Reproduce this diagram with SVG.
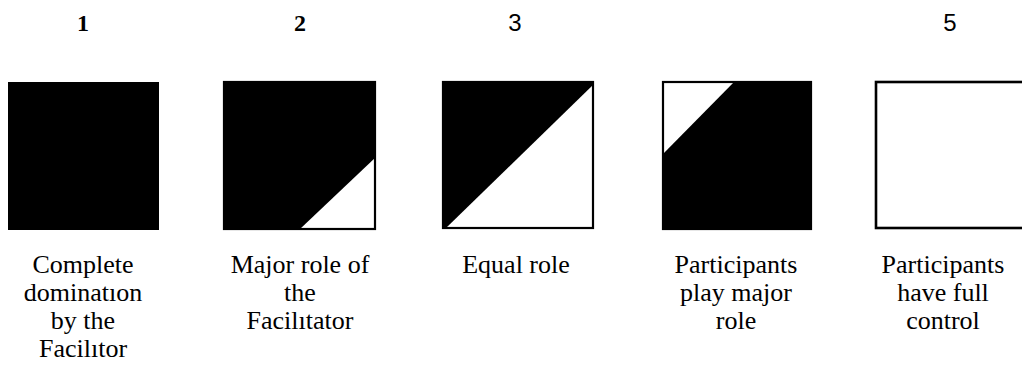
<svg xmlns="http://www.w3.org/2000/svg" width="1022" height="377" viewBox="0 0 1022 377">
  <style>
    .box { fill: #fff; stroke: #000; stroke-width: 2.2; }
    .ink { fill: #000; stroke: none; }
    .num { font-family: 'Liberation Serif', serif; font-size: 24px; font-weight: bold; fill: #000; text-anchor: middle; }
    .num2 { font-family: 'Liberation Sans', sans-serif; font-size: 24px; fill: #000; text-anchor: middle; }
    .cap { font-family: 'Liberation Serif', serif; font-size: 26px; fill: #000; text-anchor: middle; }
  </style>
  <rect width="1022" height="377" fill="#fff"/>

  <!-- 1: facilitator dominates completely -->
  <g id="level1">
    <text class="num" x="83" y="31">1</text>
    <rect class="ink" x="8" y="82" width="151" height="148"/>
    <text class="cap" x="83" y="273">Complete</text>
    <text class="cap" x="83" y="301">dominatıon</text>
    <text class="cap" x="83" y="329">by the</text>
    <text class="cap" x="83" y="357">Facilıtor</text>
  </g>

  <!-- 2: facilitator has the major role -->
  <g id="level2">
    <text class="num" x="300" y="31">2</text>
    <rect class="box" x="224" y="82" width="151" height="147"/>
    <polygon class="ink" points="223,81 376,81 376,157 300,229 223,229"/>
    <text class="cap" x="300" y="273">Major role of</text>
    <text class="cap" x="300" y="301">the</text>
    <text class="cap" x="300" y="329">Facilıtator</text>
  </g>

  <!-- 3: equal share -->
  <g id="level3">
    <text class="num2" x="515" y="31">3</text>
    <rect class="box" x="443" y="82" width="150" height="146"/>
    <polygon class="ink" points="442,81 594,81 594,84 446,228 442,228"/>
    <text class="cap" x="516" y="273">Equal role</text>
  </g>

  <!-- 4: participants play the major role -->
  <g id="level4">
    <rect class="box" x="663" y="82" width="148" height="147"/>
    <polygon class="ink" points="735,81 812,81 812,230 662,230 662,155"/>
    <text class="cap" x="736" y="273">Participants</text>
    <text class="cap" x="736" y="301">play major</text>
    <text class="cap" x="736" y="329">role</text>
  </g>

  <!-- 5: participants in full control -->
  <g id="level5">
    <text class="num2" x="950" y="31">5</text>
    <rect class="box" x="876" y="82" width="150" height="146" style="stroke-width:2.6"/>
    <text class="cap" x="943" y="273">Participants</text>
    <text class="cap" x="943" y="301">have full</text>
    <text class="cap" x="943" y="329">control</text>
  </g>

  <g id="connectors"/>
</svg>
